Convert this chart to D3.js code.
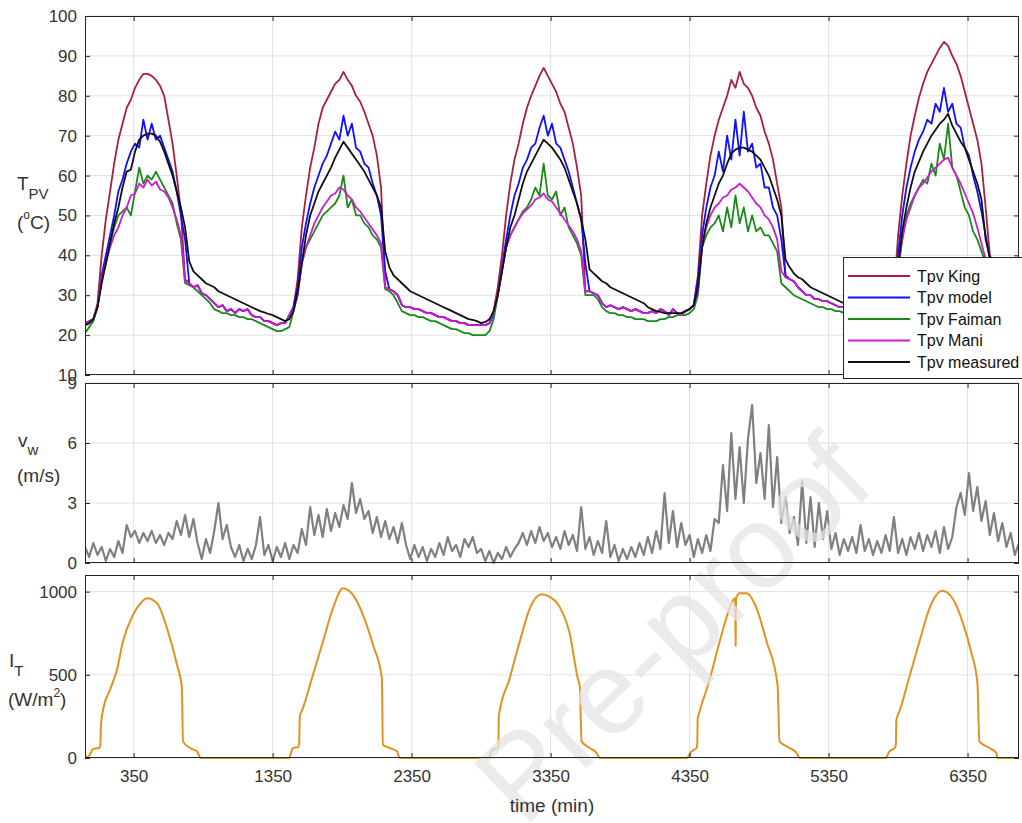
<!DOCTYPE html>
<html><head><meta charset="utf-8">
<script src="https://cdn.jsdelivr.net/npm/d3@7"></script>
<style>html,body{margin:0;padding:0;background:#fff;} text{font-family:"Liberation Sans",Arial,sans-serif;}</style>
</head><body>
<script>
// ---------- DATA ----------
const timeMin = d3.range(0, 6721, 30); // sample times (min), 225 samples
const xTicks = [350, 1350, 2350, 3350, 4350, 5350, 6350];
const tpvTicks = [10, 20, 30, 40, 50, 60, 70, 80, 90, 100];
const vwTicks = [0, 3, 6, 9];
const itTicks = [0, 500, 1000];
const seriesNames = ["Tpv King", "Tpv model", "Tpv Faiman", "Tpv Mani", "Tpv measured"];

const tpvKing = [
22.5,23,24,28,40,49,56,63,69,73,
77,79,82,84,85.5,85.5,85,84,82.5,80,
74,68,60,51,34,33,32,32.5,30.5,30,
29,28,27,27.5,26,26.5,25.5,26.5,26,26.5,
25,24.5,24.5,23.5,23.5,23,22.5,23,23,25,
27,34,47,55,62,67,73,77,79,81,
83,84,86,84,82.5,80,78.5,76,73,70,
65,57,32,31.5,31,30,27.5,27,27,26.5,
26.5,26,25.5,25.5,25,24.5,24.5,24,23.5,23.5,
23,23,22.5,22.5,22.5,22.5,22.5,23,26,32,
40,50,58,64,68,73,77,80,82.5,85,
87,85,83,81,78,76,72,68,62,55,
31,31,30.5,30,28,27,27.5,27,26.5,27,
26.5,26,26.5,26,25.5,25.5,26,25.5,26.5,26,
25,26.5,25.5,25,26,26.5,27.5,35,50,58,
65,70,74,77,80,84,82,86,83,82,
80,77,75,71,68,64,58,52,34.5,34,
33.5,32,31,30,30,29,29,28.5,28.5,28,
27.5,27,27,26.5,26.5,26,26,25.5,25.5,25.5,
25.5,25.5,25.5,26,30,45,55,63,70,75,
79.5,83,86,88,90,92,93.5,92.5,90,88,
85,81,77,73,69,63,52,40,38,37.5,
37,36.5,36,35.5,35];

const tpvModel = [
23,23.5,24,27,35,40,45,50,56,59,
63,66,68,67,74,69,73,69,70,67,
64,61,56,50,44,33,32,32.5,30.5,30,
29,28,27,27.5,26,26.5,25.5,26.5,26,26.5,
25,24.5,24.5,23.5,23.5,23,22.5,23,23,25,
27,32,42,48,53,57,60,63,65,68,
71,69,75,70,73,67,66,63,62,58,
55,50,36,31.5,31,30,27.5,27,27,26.5,
26.5,26,25.5,25.5,25,24.5,24.5,24,23.5,23.5,
23,23,22.5,22.5,22.5,22.5,22.5,23,25,30,
37,44,50,55,58,62,64,67,68,72,
75,70,73,68,67,64,61,57,53,49,
38,31,30.5,30,28,27,27.5,27,26.5,27,
26.5,26,26.5,26,25.5,25.5,26,25.5,26.5,26,
25,26.5,25.5,25,26,26.5,27.5,34,45,52,
57,60,66,61,70,64,74,65,76,66,
68,62,63,57,57,52,50,44,35,34,
33.5,32,31,30,30,29,29,28.5,28.5,28,
27.5,27,27,26.5,26.5,26,26,25.5,25.5,25.5,
25.5,25.5,25.5,26,29,40,50,57,62,66,
69,71,74,73,78,76,82,76,78,73,
72,67,65,60,56,51,45,39,37.5,37,
36.5,36,35.5,35,34.5];

const tpvFaiman = [
20.5,22,23.5,27,34,38,43,47,50,51,
52,50,56,62,58,60,59,61,59,57,
55,53,48,44,33,32.5,32,31,30,29,
28,26.5,26,25.5,25.5,25,25,24.5,24.5,24,
24,23.5,23,22.5,22,21.5,21,21,21.5,22,
26,30,38,42,44,46,48,50,51,52,
53,55,60,52,54,50,50,48,47,45,
44,42,31.5,31,30,28,26,25.5,25,25,
24.5,24.5,24,23.5,23.5,23,22.5,22,21.5,21.5,
21,20.5,20.5,20,20,20,20,21,24,30,
36,42,45,47,49,51,52,54,57,55,
63,55,54,56,50,52,47,45,43,40,
30,30,30,29,27,26,25.5,25.5,25,25,
24.5,24.5,24,24,24,23.5,23.5,23.5,24,24,
24.5,24.5,25,25,25,25.5,26.5,30,42,45,
47,48,50,46,52,47,55,48,52,46,
50,46,47,45,45,43,41,33,32,31,
30,29.5,29,28.5,28,27.5,27,27,26.5,26.5,
26,26,25.5,25.5,25,25,25,24.5,24.5,24.5,
24.5,24.5,24.5,25,27,36,44,50,53,55,
57,59,58,63,60,68,64,73,62,60,
56,52,50,46,44,41,38,37,36.5,36,
36,35.5,35,34.5,34];

const tpvMani = [
23,23.5,24,27,34,38,42,45,47,50,
52,55,55.5,58,57,59,57.5,58.5,56.5,56,
54.5,52,49,45,33.5,33,32,32.5,30.5,30,
29,28,27,27.5,26,26.5,25.5,26.5,26,26.5,
25,24.5,24.5,23.5,23.5,23,22.5,23,23,25,
26.5,30,38,42,45,48,50,52,53.5,55,
55.5,57,56.5,55,54,52,51,49.5,48,46.5,
45,43,32,31.5,31,30,27.5,27,27,26.5,
26.5,26,25.5,25.5,25,24.5,24.5,24,23.5,23.5,
23,23,22.5,22.5,22.5,22.5,22.5,23,26,30,
36,42,45,47,49,50.5,51.5,52.5,54,54.5,
55.5,54,53.5,52,50.5,49,47.5,46,44,41,
31,31,30.5,30,28,27,27.5,27,26.5,27,
26.5,26,26.5,26,25.5,25.5,26,25.5,26.5,26,
25,26.5,25.5,25,26,26.5,27.5,31,43,47,
50,52,53,54.5,55,56.5,57,58,57,56,
54.5,53,52,50,49,47,44,36,34.5,34,
33.5,32,31,30,30,29,29,28.5,28.5,28,
27.5,27,27,26.5,26.5,26,26,25.5,25.5,25.5,
25.5,25.5,25.5,26,28,37,44,49,52,55,
57,58,59.5,61,62,63,64,64.5,62,60,
58,55.5,53,50.5,47,43,39,38,37.5,37,
36.5,36,35.5,35,34.5];

const tpvMeasured = [
22.5,23,24,27,33,38,43,48,52,57,
61,61.5,66,69,70,70.5,70.5,70,68.5,66,
63,60,56,52,47,38.5,36,35,34,33,
32.5,32,31,30.5,30,29.5,29,28.5,28,27.5,
27,26.5,26,25.7,25.3,25,24.5,24,23.5,24,
26,31,38,45,50,53,56,58,60,62,
64.5,66.5,68.5,67,65.5,64,62.5,61,59,57,
55,52,41,37,35,34,33,32,31,30.5,
30,29.5,29,28.5,28,27.5,27,26.5,26,25.5,
25,24.5,24,23.8,23.5,23,23.3,24,26,30,
36,42,47,50,54,58,61,63,65,67,
69,68,67,65.5,64,62,59,56,53,49,
44,36.5,35.5,34.5,33.5,33,32,31.5,31,30.5,
30,29.5,29,28.5,28,27,26.5,26,25.8,25.5,
25.5,25.5,25.5,25.5,26,26.5,27.5,32,42,48,
52,55,58,60,63,65.5,66.5,67,67,66.5,
66,65,64,62,60,57,54,50,39,37,
35.5,34.5,34,33,32,31.5,31,30.5,30,29.5,
29,28.5,28,27.5,27,26.8,26.5,26.2,26,25.8,
25.5,25.3,25.2,25.5,27,37,46,52,57,61,
63.5,66,68,70,71.5,73,74,75.5,72.5,70.5,
68.5,67,64,61,58,54,44,39.5,39,38.8,
38.5,38,37.5,37,36.5];

const windSpeed = [
0.8,0.3,1.0,0.4,0.8,0.1,0.7,0.3,1.1,0.5,
1.9,1.3,1.6,1.0,1.5,1.1,1.6,1.0,1.4,0.9,
1.5,1.2,2.1,1.4,2.4,1.3,2.2,1.0,0.2,1.2,
0.5,1.6,3.0,1.2,1.9,0.8,0.3,0.9,0.1,0.7,
0.2,0.9,2.3,0.4,0.9,0.1,0.8,0.3,1.0,0.2,
0.9,0.5,1.7,0.9,2.8,1.4,2.4,1.3,2.7,1.6,
2.5,1.8,2.9,2.2,4.0,2.5,3.2,2.2,2.6,1.5,
2.3,1.3,2.1,1.2,1.8,1.0,2.0,0.9,0.2,0.9,
0.3,0.8,0.1,0.7,0.3,1.0,0.4,1.3,0.6,0.9,
0.3,1.2,0.8,1.3,0.5,0.7,0.1,0.6,0.0,0.5,
0.2,0.8,0.3,0.7,1.0,1.5,0.9,1.6,1.0,1.8,
1.1,1.5,0.8,1.3,0.7,1.6,0.9,1.4,0.6,2.8,
0.7,1.3,0.4,1.1,0.5,2.1,0.3,0.9,0.1,0.7,
0.2,0.8,0.3,1.0,0.4,1.3,0.5,1.6,0.7,3.5,
1.0,2.6,0.8,2.0,0.9,1.4,0.3,1.2,0.5,1.4,
0.6,2.2,2.0,4.9,2.6,6.5,3.2,5.8,3.0,6.2,
7.9,4.0,5.5,3.2,6.9,2.8,5.3,2.0,3.3,1.5,
2.3,0.9,4.1,1.0,3.3,0.8,3.0,1.2,2.6,0.7,
1.5,0.4,1.2,0.6,1.3,0.5,1.9,0.6,1.2,0.4,
1.1,0.5,1.4,0.6,2.3,0.5,1.2,0.4,1.3,0.7,
1.5,0.6,1.4,0.8,1.6,0.5,1.8,0.7,1.3,2.8,
3.5,2.4,4.5,2.6,3.8,2.1,3.1,1.4,2.5,1.1,
2.0,0.8,1.5,0.4,1.0];

// irradiance breakpoints (time in min, W/m2)
const irrTime = [0,36,58,101,110,115,130,180,230,273,345,400,446,518,590,662,697,705,755,805,834,
1467,1496,1532,1540,1546,1568,1640,1712,1784,1856,1928,2000,2072,2136,2143,2193,2244,2265,
2898,2934,2970,2975,2977,3056,3128,3200,3286,3340,3415,3487,3545,3560,3573,3631,3681,3703,
4328,4364,4400,4405,4408,4422,4494,4566,4638,4674,4678,4681,4684,4710,4760,4832,4904,4983,4997,5069,5120,5141,
5760,5788,5824,5834,5838,5860,5932,6004,6076,6169,6241,6313,6378,6421,6435,6507,6557,6564,6720];
const irrValue = [0,20,55,60,70,200,290,410,530,700,860,930,960,930,780,560,420,100,60,40,0,
0,60,65,80,250,300,500,700,900,1020,980,860,680,480,80,60,40,0,
0,50,60,80,250,480,700,900,985,970,908,750,480,430,100,60,30,0,
0,40,60,80,235,280,470,700,900,960,940,673,960,990,990,900,700,440,100,60,30,0,
0,40,60,80,230,280,490,700,900,1005,960,820,630,450,100,60,30,0,0];

// ---------- DRAW ----------
const W = 1022, H = 823;
const svg = d3.select("body").append("svg").attr("width", W).attr("height", H);
svg.append("rect").attr("width", W).attr("height", H).attr("fill", "#fff");

const X0 = 85, X1 = 1019;
const x = d3.scaleLinear().domain([0, 6720]).range([X0, X1]);
const panels = [
  {y: d3.scaleLinear().domain([10, 100]).range([375, 16]), ticks: tpvTicks},
  {y: d3.scaleLinear().domain([0, 9]).range([563, 383]), ticks: vwTicks},
  {y: d3.scaleLinear().domain([0, 1100]).range([758, 575]), ticks: itTicks}
];
const axisColor = "#262626", gridColor = "#e1e1e1", textColor = "#333";
const defs = svg.append("defs");

panels.forEach((p, i) => {
  const [yb, yt] = p.y.range();
  p.g = svg.append("g");
  p.g.append("g").selectAll("line").data(xTicks).join("line")
    .attr("x1", d => x(d)).attr("x2", d => x(d)).attr("y1", yt).attr("y2", yb)
    .attr("stroke", gridColor).attr("stroke-width", 1);
  p.g.append("g").selectAll("line").data(p.ticks).join("line")
    .attr("x1", X0).attr("x2", X1).attr("y1", d => p.y(d)).attr("y2", d => p.y(d))
    .attr("stroke", gridColor).attr("stroke-width", 1);
  defs.append("clipPath").attr("id", "clip" + i).append("rect")
    .attr("x", X0).attr("y", yt - 1).attr("width", X1 - X0).attr("height", yb - yt + 2);
  p.data = p.g.append("g").attr("clip-path", `url(#clip${i})`);
});

// Top panel series
const tpvSeries = [tpvKing, tpvModel, tpvFaiman, tpvMani, tpvMeasured];
const tpvColors = ["#a8203e", "#1010ff", "#1a8a1a", "#cc1ccc", "#111111"];
tpvSeries.forEach((s, k) => {
  const line = d3.line().x((d, j) => x(timeMin[j])).y(d => panels[0].y(d));
  panels[0].data.append("path").datum(s).attr("d", line)
    .attr("fill", "none").attr("stroke", tpvColors[k]).attr("stroke-width", 1.8)
    .attr("stroke-linejoin", "round");
});
// Wind
panels[1].data.append("path").datum(windSpeed)
  .attr("d", d3.line().x((d, j) => x(timeMin[j])).y(d => panels[1].y(d)))
  .attr("fill", "none").attr("stroke", "#808080").attr("stroke-width", 2.2).attr("stroke-linejoin", "round");
// Irradiance
panels[2].data.append("path").datum(irrValue)
  .attr("d", d3.line().curve(d3.curveMonotoneX).x((d, j) => x(irrTime[j])).y(d => panels[2].y(d)))
  .attr("fill", "none").attr("stroke", "#e2921f").attr("stroke-width", 2).attr("stroke-linejoin", "round");

// watermark (over the data, under the text)
svg.append("text").attr("transform", "translate(672,628) rotate(-44)")
  .attr("text-anchor", "middle").attr("dy", "0.35em")
  .attr("font-size", 118).attr("font-family", "Liberation Sans, Arial, sans-serif")
  .attr("fill", "#e4e4e4").attr("fill-opacity", 0.75).text("Pre-proof");

// frames, ticks, labels
panels.forEach((p, i) => {
  const [yb, yt] = p.y.range();
  const g = svg.append("g");
  g.append("rect").attr("x", X0 + 0.5).attr("y", yt + 0.5).attr("width", X1 - X0 - 1).attr("height", yb - yt - 1)
    .attr("fill", "none").attr("stroke", axisColor).attr("stroke-width", 1);
  g.append("g").attr("transform", `translate(${X0},0)`)
    .call(d3.axisLeft(p.y).tickValues(p.ticks).tickSize(-5).tickPadding(8).tickFormat(d3.format("d")))
    .call(a => a.select(".domain").remove())
    .call(a => a.selectAll("line").attr("stroke", axisColor))
    .call(a => a.selectAll("text").attr("fill", textColor).attr("font-size", 17)
      .attr("font-family", "Liberation Sans, Arial, sans-serif"));
  g.append("g").attr("transform", `translate(${X1},0)`)
    .call(d3.axisRight(p.y).tickValues(p.ticks).tickSize(-5).tickFormat(""))
    .call(a => a.select(".domain").remove())
    .call(a => a.selectAll("line").attr("stroke", axisColor));
  g.append("g").attr("transform", `translate(0,${yb})`)
    .call(d3.axisBottom(x).tickValues(xTicks).tickSize(-5).tickPadding(12).tickFormat(i === 2 ? d3.format("d") : ""))
    .call(a => a.select(".domain").remove())
    .call(a => a.selectAll("line").attr("stroke", axisColor))
    .call(a => a.selectAll("text").attr("fill", textColor).attr("font-size", 17)
      .attr("font-family", "Liberation Sans, Arial, sans-serif"));
  g.append("g").attr("transform", `translate(0,${yt})`)
    .call(d3.axisTop(x).tickValues(xTicks).tickSize(-5).tickFormat(""))
    .call(a => a.select(".domain").remove())
    .call(a => a.selectAll("line").attr("stroke", axisColor));
});

// y labels
const lab = svg.append("g").attr("fill", textColor).attr("font-family", "Liberation Sans, Arial, sans-serif");
let t = lab.append("text").attr("x", 17).attr("y", 190).attr("font-size", 19);
t.append("tspan").text("T");
t.append("tspan").attr("dy", 9).attr("font-size", 15).text("PV");
t = lab.append("text").attr("x", 17).attr("y", 229).attr("font-size", 19);
t.append("tspan").text("(");
t.append("tspan").attr("dy", -10).attr("font-size", 12).text("o");
t.append("tspan").attr("dy", 10).text("C)");

t = lab.append("text").attr("x", 18).attr("y", 447).attr("font-size", 19);
t.append("tspan").text("v");
t.append("tspan").attr("dy", 8).attr("font-size", 15).text("w");
lab.append("text").attr("x", 17).attr("y", 482).attr("font-size", 19).text("(m/s)");

t = lab.append("text").attr("x", 9).attr("y", 667).attr("font-size", 19);
t.append("tspan").text("I");
t.append("tspan").attr("dy", 9).attr("font-size", 15).text("T");
t = lab.append("text").attr("x", 8).attr("y", 706).attr("font-size", 19);
t.append("tspan").text("(W/m");
t.append("tspan").attr("dy", -9).attr("font-size", 12).text("2");
t.append("tspan").attr("dy", 9).text(")");

lab.append("text").attr("x", (X0 + X1) / 2).attr("y", 812).attr("text-anchor", "middle")
  .attr("font-size", 19).text("time (min)");

// legend
const lg = svg.append("g");
lg.append("rect").attr("x", 843.5).attr("y", 257.5).attr("width", 190).attr("height", 121)
  .attr("fill", "#fff").attr("stroke", axisColor).attr("stroke-width", 1);
seriesNames.forEach((n, k) => {
  const yy = 276 + k * 21.5;
  lg.append("line").attr("x1", 848).attr("x2", 910).attr("y1", yy).attr("y2", yy)
    .attr("stroke", tpvColors[k]).attr("stroke-width", 2);
  lg.append("text").attr("x", 917).attr("y", yy).attr("dy", "0.36em")
    .attr("font-size", 16).attr("fill", "#111")
    .attr("font-family", "Liberation Sans, Arial, sans-serif").text(n);
});
</script>
</body></html>
